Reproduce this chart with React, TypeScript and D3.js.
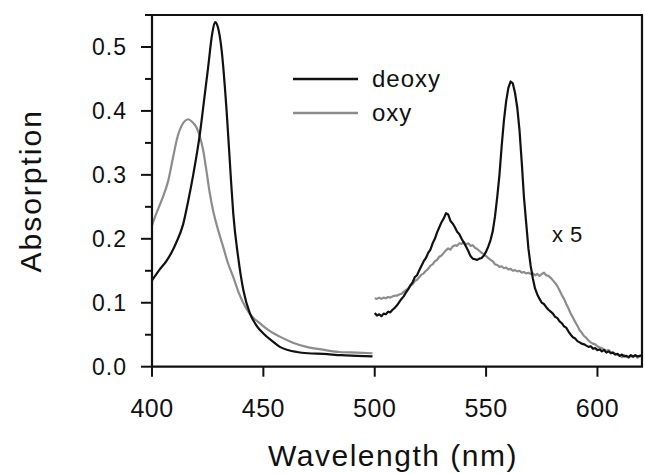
import React from "react";
import * as d3 from "d3";

const xTicks = [400, 450, 500, 550, 600];
const yTicks = [0.0, 0.1, 0.2, 0.3, 0.4, 0.5];
const yMinorTicks = [0.05, 0.15, 0.25, 0.35, 0.45];

const deoxySoret: [number, number][] = [
  [400, 0.135], [403, 0.15], [406.6, 0.166], [409, 0.18], [411, 0.195], [414, 0.223],
  [416.3, 0.26], [418.5, 0.3], [421.5, 0.364], [423.5, 0.42], [425.2, 0.468], [427, 0.52],
  [428.3, 0.539], [429.5, 0.532], [431.3, 0.494], [433.5, 0.4], [435.5, 0.29], [436.5, 0.239],
  [438.7, 0.171], [441, 0.12], [444, 0.083], [447, 0.064], [450, 0.052], [454, 0.04],
  [457.4, 0.031], [461, 0.026], [465, 0.023], [470, 0.021], [477, 0.02], [485, 0.018],
  [492, 0.017], [499, 0.016],
];

const oxySoret: [number, number][] = [
  [400, 0.221], [402, 0.24], [404.3, 0.26], [407.3, 0.291], [409.6, 0.33], [411.5, 0.36],
  [413.3, 0.377], [415, 0.385], [416.3, 0.387], [418, 0.383], [420, 0.374], [421.5, 0.36],
  [423, 0.338], [424.5, 0.305], [426, 0.27], [427.5, 0.243], [430, 0.21], [432, 0.187],
  [434, 0.163], [436.5, 0.14], [439, 0.115], [442.5, 0.09], [445, 0.078], [448.4, 0.068],
  [452, 0.058], [457.4, 0.047], [463, 0.038], [469.4, 0.031], [476, 0.027], [484, 0.023],
  [492, 0.022], [499, 0.021],
];

const deoxyVisible: [number, number][] = [
  [500, 0.084], [501, 0.08], [502, 0.082], [503, 0.079], [504, 0.083], [505, 0.082], [506, 0.086],
  [507, 0.085], [508, 0.089], [509, 0.092], [510, 0.096], [511, 0.101], [512, 0.106], [513, 0.11],
  [514, 0.116], [515, 0.121], [516, 0.127], [517, 0.132], [518, 0.14], [519, 0.143], [520, 0.151],
  [521, 0.158], [522, 0.165], [523, 0.17], [524, 0.178], [525, 0.183], [526, 0.193], [527, 0.2],
  [528, 0.21], [529, 0.218], [530, 0.226], [531, 0.232], [532, 0.24], [533, 0.238], [534, 0.228],
  [535, 0.224], [536, 0.218], [537, 0.211], [538, 0.207], [539, 0.2], [540, 0.194], [541, 0.188],
  [542, 0.181], [543, 0.173], [544, 0.169], [545, 0.168], [546, 0.167], [547, 0.169], [548, 0.17],
  [549, 0.174], [550, 0.18], [551, 0.188], [552, 0.198], [553, 0.212], [554, 0.235], [555, 0.265],
  [556, 0.3], [557, 0.345], [558, 0.385], [559, 0.415], [560, 0.436], [561, 0.446], [562, 0.443],
  [563, 0.428], [564, 0.405], [565, 0.37], [566, 0.32], [567, 0.265], [568, 0.225], [569, 0.185],
  [570, 0.158], [571, 0.138], [572, 0.122], [573, 0.113], [574, 0.106], [575, 0.1], [576, 0.098],
  [577, 0.093], [578, 0.089], [579, 0.086], [580, 0.083], [581, 0.078], [582, 0.076], [583, 0.071],
  [584, 0.068], [585, 0.063], [586, 0.061], [587, 0.055], [588, 0.05], [589, 0.046], [590, 0.044],
  [591, 0.04], [592, 0.038], [593, 0.036], [594, 0.035], [595, 0.033], [596, 0.031], [597, 0.032],
  [598, 0.028], [599, 0.029], [600, 0.026], [601, 0.027], [602, 0.024], [603, 0.026], [604, 0.022],
  [605, 0.024], [606, 0.021], [607, 0.022], [608, 0.019], [609, 0.02], [610, 0.017], [611, 0.019],
  [612, 0.016], [613, 0.017], [614, 0.015], [615, 0.018], [616, 0.016], [617, 0.018], [618, 0.016],
  [619, 0.017], [620, 0.018],
];

const oxyVisible: [number, number][] = [
  [500, 0.107], [501, 0.106], [502, 0.108], [503, 0.106], [504, 0.108], [505, 0.107], [506, 0.109],
  [507, 0.108], [508, 0.11], [509, 0.111], [510, 0.111], [511, 0.113], [512, 0.114], [513, 0.117],
  [514, 0.12], [515, 0.122], [516, 0.127], [517, 0.129], [518, 0.134], [519, 0.136], [520, 0.14],
  [521, 0.144], [522, 0.146], [523, 0.15], [524, 0.153], [525, 0.158], [526, 0.16], [527, 0.165],
  [528, 0.167], [529, 0.172], [530, 0.174], [531, 0.178], [532, 0.182], [533, 0.185], [534, 0.183],
  [535, 0.188], [536, 0.19], [537, 0.189], [538, 0.193], [539, 0.192], [540, 0.195], [541, 0.191],
  [542, 0.193], [543, 0.189], [544, 0.19], [545, 0.186], [546, 0.184], [547, 0.181], [548, 0.178],
  [549, 0.176], [550, 0.173], [551, 0.17], [552, 0.167], [553, 0.165], [554, 0.16], [555, 0.159],
  [556, 0.156], [557, 0.157], [558, 0.154], [559, 0.155], [560, 0.152], [561, 0.153], [562, 0.15],
  [563, 0.151], [564, 0.149], [565, 0.15], [566, 0.147], [567, 0.148], [568, 0.146], [569, 0.147],
  [570, 0.145], [571, 0.146], [572, 0.143], [573, 0.145], [574, 0.142], [575, 0.145], [576, 0.147],
  [577, 0.143], [578, 0.142], [579, 0.139], [580, 0.135], [581, 0.131], [582, 0.126], [583, 0.119],
  [584, 0.112], [585, 0.106], [586, 0.098], [587, 0.091], [588, 0.083], [589, 0.077], [590, 0.07],
  [591, 0.064], [592, 0.057], [593, 0.053], [594, 0.048], [595, 0.045], [596, 0.041], [597, 0.038],
  [598, 0.036], [599, 0.035], [600, 0.032], [601, 0.03], [602, 0.029], [603, 0.027], [604, 0.025],
  [605, 0.026], [606, 0.023], [607, 0.022], [608, 0.02], [609, 0.019], [610, 0.017], [611, 0.015],
  [612, 0.018], [613, 0.016], [614, 0.014], [615, 0.017], [616, 0.015], [617, 0.018], [618, 0.014],
  [619, 0.017], [620, 0.016],
];

const seriesNames = ["deoxy", "oxy"];
const annotation = "x 5";

const W = 645;
const H = 474;
const FONT = "'Liberation Sans', Arial, Helvetica, sans-serif";
const BLACK = "#111";
const GRAY = "#8c8c8c";

export default function App() {
  const x = d3.scaleLinear().domain([400, 620]).range([152, 642]);
  const y = d3.scaleLinear().domain([0, 0.55]).range([366.7, 15]);

  const smooth = d3
    .line<[number, number]>()
    .x((d) => x(d[0]))
    .y((d) => y(d[1]))
    .curve(d3.curveMonotoneX);
  const jag = d3
    .line<[number, number]>()
    .x((d) => x(d[0]))
    .y((d) => y(d[1]));

  const left = x(400);
  const right = x(620);
  const top = y(0.55);
  const bottom = y(0);

  const frame = `M${left - 7},${top} H${right} V${bottom} H${left}`;

  return (
    <svg
      width={W}
      height={H}
      style={{ position: "absolute", left: 0, top: 0, background: "#fff" }}
      fontFamily={FONT}
    >
      {/* curves */}
      <path d={smooth(oxySoret) || ""} fill="none" stroke={GRAY} strokeWidth={2.2} />
      <path d={smooth(deoxySoret) || ""} fill="none" stroke={BLACK} strokeWidth={2.2} />
      <path d={jag(oxyVisible) || ""} fill="none" stroke={GRAY} strokeWidth={2.2} strokeLinejoin="round" />
      <path d={jag(deoxyVisible) || ""} fill="none" stroke={BLACK} strokeWidth={2.2} strokeLinejoin="round" />

      {/* frame */}
      <path d={frame} fill="none" stroke={BLACK} strokeWidth={2.2} />
      <line x1={left} x2={left} y1={top - 1} y2={bottom} stroke={BLACK} strokeWidth={2.2} />

      {/* y ticks */}
      {yTicks.map((t) => (
        <g key={"y" + t}>
          <line x1={left - 11} x2={left} y1={y(t)} y2={y(t)} stroke={BLACK} strokeWidth={2} />
          <text
            x={127}
            y={y(t)}
            dy="0.36em"
            textAnchor="end"
            fontSize={23}
            letterSpacing={1}
            fill={BLACK}
          >
            {t.toFixed(1)}
          </text>
        </g>
      ))}
      {yMinorTicks.map((t) => (
        <line key={"ym" + t} x1={left - 7} x2={left} y1={y(t)} y2={y(t)} stroke={BLACK} strokeWidth={2} />
      ))}

      {/* x ticks */}
      {xTicks.map((t) => (
        <g key={"x" + t}>
          <line x1={x(t)} x2={x(t)} y1={bottom} y2={bottom + 10} stroke={BLACK} strokeWidth={2} />
          <text
            x={x(t)}
            y={417}
            textAnchor="middle"
            fontSize={25}
            letterSpacing={0.5}
            fill={BLACK}
          >
            {t}
          </text>
        </g>
      ))}

      {/* axis titles */}
      <text x={393} y={466} textAnchor="middle" fontSize={30} letterSpacing={1.5} fill={BLACK}>
        Wavelength (nm)
      </text>
      <text
        transform={`translate(41, ${(top + bottom) / 2}) rotate(-90)`}
        textAnchor="middle"
        fontSize={30}
        letterSpacing={2}
        fill={BLACK}
      >
        Absorption
      </text>

      {/* legend */}
      <line x1={293} x2={358} y1={79} y2={79} stroke={BLACK} strokeWidth={2.4} />
      <text x={372} y={87} fontSize={24} letterSpacing={1} fill={BLACK}>
        {seriesNames[0]}
      </text>
      <line x1={293} x2={358} y1={113} y2={113} stroke={GRAY} strokeWidth={2.4} />
      <text x={372} y={121} fontSize={24} letterSpacing={1} fill={BLACK}>
        {seriesNames[1]}
      </text>

      <text x={552} y={242} fontSize={22} letterSpacing={0.5} fill={BLACK}>
        {annotation}
      </text>
    </svg>
  );
}
